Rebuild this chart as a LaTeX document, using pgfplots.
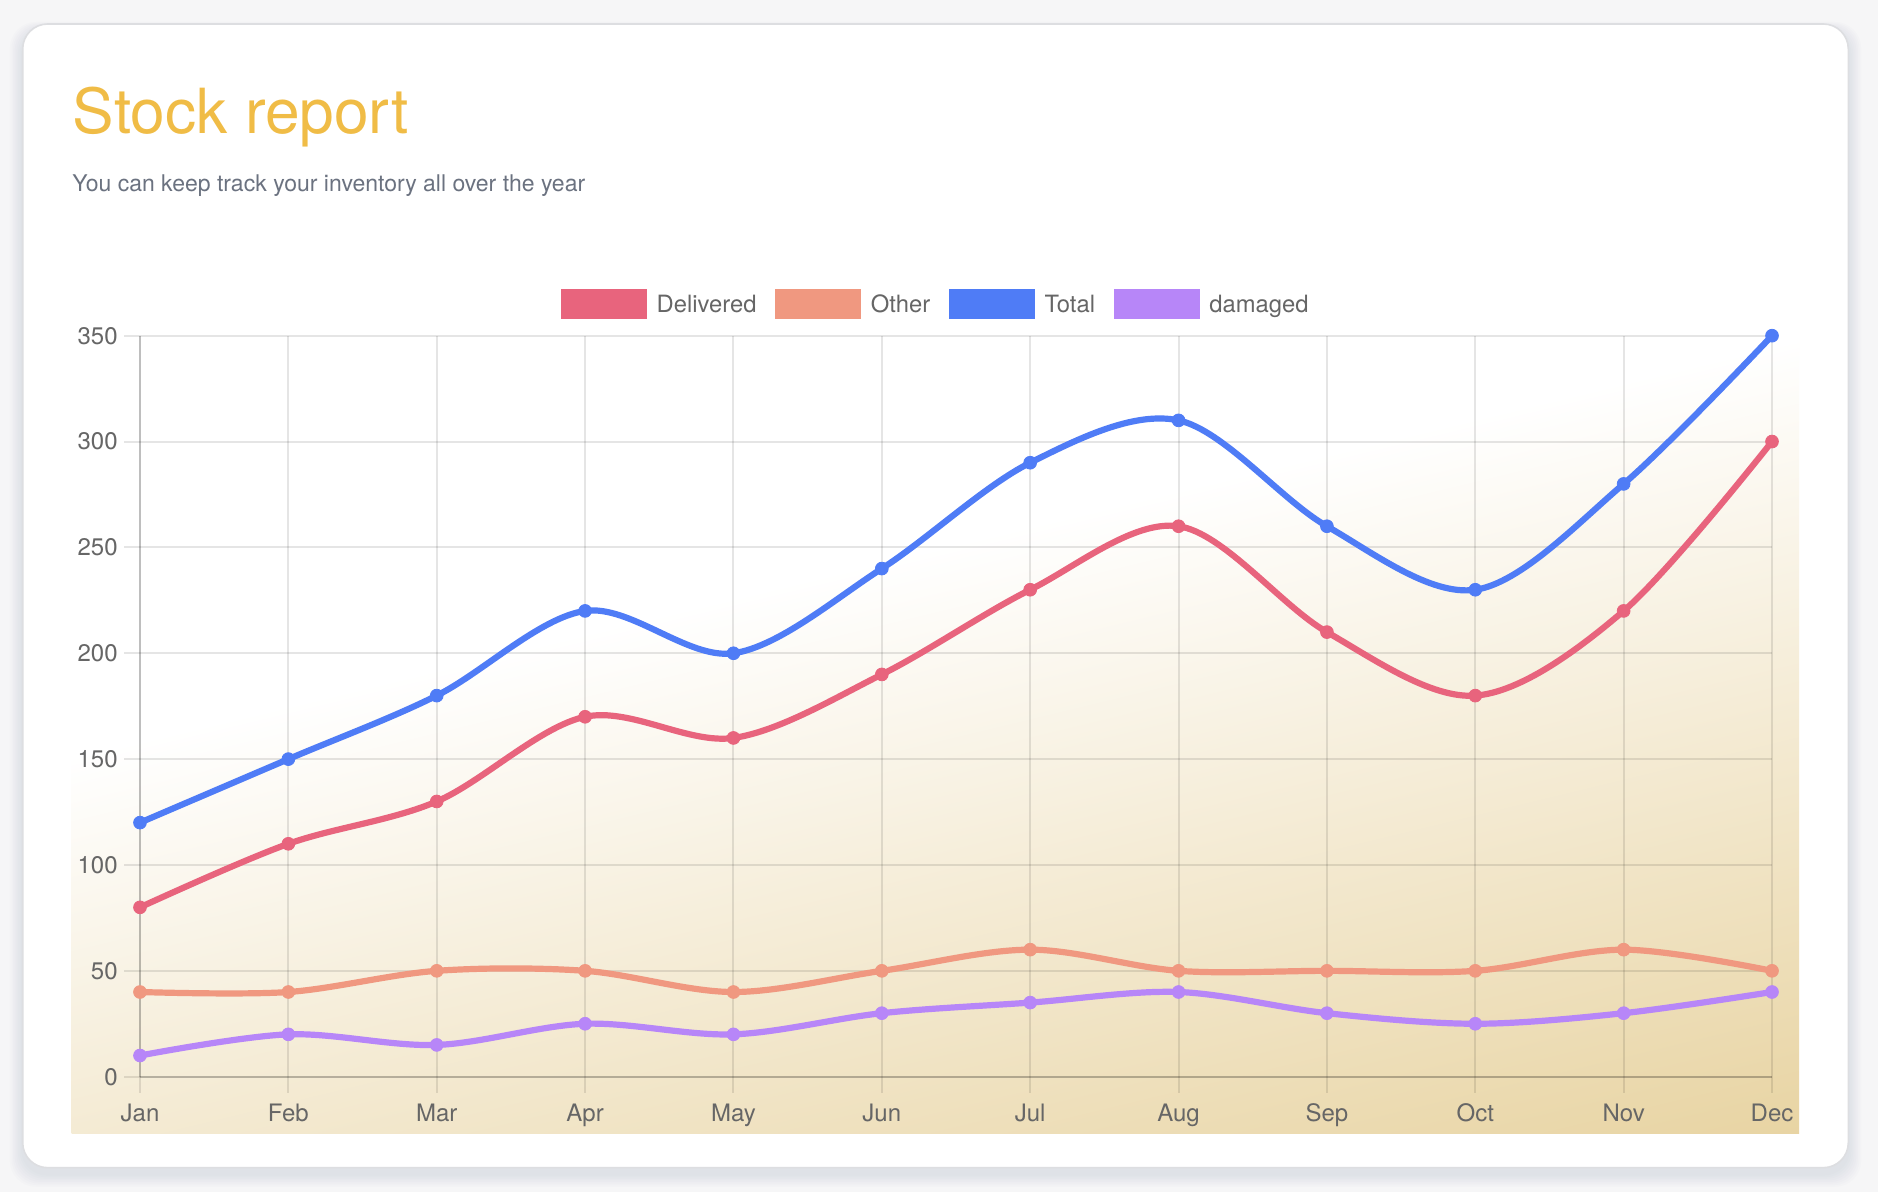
\documentclass[border=0pt]{standalone}
\usepackage{fontspec}
\setmainfont{TeX Gyre Heros}
\usepackage{pgfplots}
\usepackage{pgfplotstable}
\pgfplotsset{compat=1.18}

\definecolor{pagebg}{HTML}{F6F6F7}
\definecolor{cardline}{HTML}{DDDEE1}
\definecolor{shadowc}{HTML}{8C97A8}
\definecolor{sand}{HTML}{E8D4A3}
\definecolor{titlec}{HTML}{F0BC46}
\definecolor{subc}{HTML}{6B7280}
\definecolor{tickc}{HTML}{666666}
\definecolor{delivered}{HTML}{E8647D}
\definecolor{other}{HTML}{F09880}
\definecolor{total}{HTML}{4F7CF6}
\definecolor{damaged}{HTML}{B786F8}

% warm backdrop: sand at the bottom fading to white
\pgfdeclareverticalshading{warm}{1200bp}{color(0bp)=(sand); color(386bp)=(white)}

% monthly stock figures (month index 0 = Jan)
\pgfplotstableread{
m  delivered other total damaged
0  80        40    120   10
1  110       40    150   20
2  130       50    180   15
3  170       50    220   25
4  160       40    200   20
5  190       50    240   30
6  230       60    290   35
7  260       50    310   40
8  210       50    260   30
9  180       50    230   25
10 220       60    280   30
11 300       50    350   40
}\stock

\begin{document}
\begin{tikzpicture}
% page and card
\fill[pagebg] (0,0) rectangle (939pt,596pt);
\path[use as bounding box] (0,0) rectangle (939pt,596pt);
\foreach \e in {1,...,8} {
  \fill[shadowc, opacity=0.022, rounded corners=13pt]
    (11.35pt-\e*0.8pt, 9pt-\e*0.8pt) rectangle (924.15pt+\e*0.8pt, 581pt+\e*0.5pt);
}
\fill[white, draw=cardline, line width=0.8pt, rounded corners=12.5pt]
  (11.35pt,12.15pt) rectangle (924.15pt,584pt);

% tilted warm gradient behind the chart
\begin{scope}
  \clip (35.85pt,29.35pt) rectangle (899.5pt,481pt);
  \node[inner sep=0pt, outer sep=0pt, anchor=north west, rotate=13.6]
    at (-119.2pt,180.6pt) {\pgfuseshading{warm}};
\end{scope}

% heading
\node[anchor=base west, inner sep=0pt, text=titlec, font=\fontsize{31.1}{37}\selectfont]
  at (36.2pt,529.35pt) {Stock report};
\node[anchor=base west, inner sep=0pt, text=subc, font=\fontsize{11.5}{13}\selectfont]
  at (36pt,500.15pt) {You can keep track your inventory all over the year};

\begin{axis}[
  at={(70pt,57.65pt)}, anchor=south west,
  scale only axis, width=816pt, height=370.5pt,
  xmin=0, xmax=11, ymin=0, ymax=350,
  xtick={0,...,11},
  xticklabels={Jan,Feb,Mar,Apr,May,Jun,Jul,Aug,Sep,Oct,Nov,Dec},
  ytick={0,50,...,350},
  axis x line*=bottom, axis y line*=left,
  axis line style={-, draw=black, draw opacity=0.17, line width=1pt},
  grid=major,
  major grid style={draw=black, draw opacity=0.1, line width=1pt},
  tick align=outside, major tick length=8pt,
  tick style={draw=black, draw opacity=0.1, line width=1pt},
  /pgf/number format/assume math mode=true,
  ticklabel style={font=\fontsize{12}{14}\selectfont, text=tickc},
  yticklabel style={anchor=east, inner sep=0pt, xshift=-3pt},
  xticklabel style={anchor=north, inner sep=0pt, yshift=-5.35pt},
  clip=false,
  legend columns=4,
  legend style={at={(0.487,1.0428)}, anchor=center, draw=none, fill=none,
    inner sep=0pt, outer sep=0pt, column sep=0pt,
    /tikz/every even column/.append style={column sep=9.3pt},
    nodes={inner sep=0pt, text=tickc, font=\fontsize{11.9}{14}\selectfont,
      text height=8.5pt, text depth=0pt, anchor=west}},
  legend image code/.code={\fill[#1, draw=none] (0pt,-7.35pt) rectangle (43pt,7.35pt); \path (46.3pt,0pt);},
  every axis plot/.append style={line width=3.1pt, smooth, tension=0.55,
    mark=*, mark size=3.2pt, mark options={line width=0.4pt, solid}},
]
\addplot[color=delivered] table[x=m, y=delivered] {\stock};
\addlegendentry{Delivered}
\addplot[color=other] table[x=m, y=other] {\stock};
\addlegendentry{Other}
\addplot[color=total] table[x=m, y=total] {\stock};
\addlegendentry{Total}
\addplot[color=damaged] table[x=m, y=damaged] {\stock};
\addlegendentry{damaged}
\end{axis}
\end{tikzpicture}
\end{document}
